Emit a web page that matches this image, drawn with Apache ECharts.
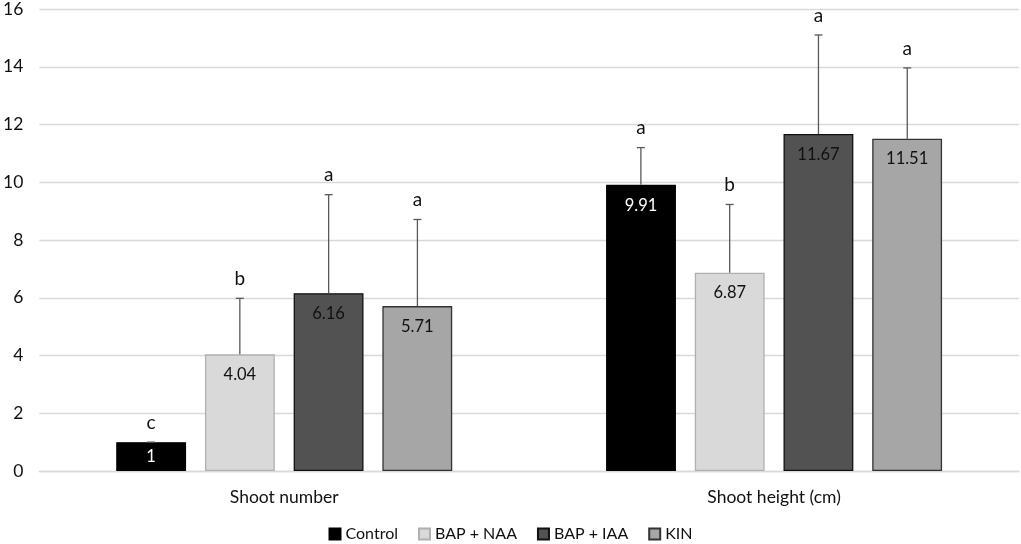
<!DOCTYPE html>
<html><head><meta charset="utf-8">
<script src="https://cdn.jsdelivr.net/npm/echarts@6/dist/echarts.min.js"></script>
<style>html,body{margin:0;padding:0;background:#fff}#c{width:1021px;height:544px}</style>
</head><body><div id="c"></div>
<script>
const categories = ['Shoot number', 'Shoot height (cm)'];
const seriesNames = ['Control', 'BAP + NAA', 'BAP + IAA', 'KIN'];
const controlVals = [1, 9.91];
const naaVals = [4.04, 6.87];
const iaaVals = [6.16, 11.67];
const kinVals = [5.71, 11.51];
const controlErr = [0, 1.29];
const naaErr = [1.94, 2.36];
const iaaErr = [3.41, 3.43];
const kinErr = [3.0, 2.45];
const controlLetters = ['c', 'a'];
const naaLetters = ['b', 'b'];
const iaaLetters = ['a', 'a'];
const kinLetters = ['a', 'a'];
const yTicks = [0, 2, 4, 6, 8, 10, 12, 14, 16];

const FONT = 'Lato';
const vals = [controlVals, naaVals, iaaVals, kinVals];
const errs = [controlErr, naaErr, iaaErr, kinErr];
const letters = [controlLetters, naaLetters, iaaLetters, kinLetters];
const fills = ['#000000', '#d9d9d9', '#525252', '#a6a6a6'];
const borders = ['#000000', '#b0b0b0', '#111111', '#333333'];
const labelColors = ['#ffffff', '#111111', '#111111', '#111111'];

const BW = 70 / 491, STEP = 89 / 491;

const series = [];
vals.forEach((v, i) => {
  series.push({
    name: seriesNames[i], type: 'bar',
    data: v.map(val => val < 2 ? { value: val, label: { position: 'inside' } } : val),
    barWidth: (BW * 100).toFixed(2) + '%', barGap: '27%',
    itemStyle: { color: fills[i], borderColor: borders[i], borderWidth: 1.3 },
    label: { show: true, position: 'insideTop', distance: 12, color: labelColors[i],
      fontFamily: FONT, fontSize: 16.5, formatter: p => String(p.value) },
    z: 2
  });
});
vals.forEach((v, i) => {
  series.push({
    name: seriesNames[i] + ' err', type: 'custom',
    data: v.map((val, k) => [k, val, errs[i][k]]),
    encode: { x: 0, y: 1 },
    z: 3, silent: true,
    renderItem: (params, api) => {
      const k = api.value(0), val = api.value(1), e = api.value(2);
      const base = api.coord([k, val]);
      const top = api.coord([k, val + e]);
      const catW = api.size([1, 0])[0];
      const x = base[0] + (i - 1.5) * catW * STEP;
      const children = [];
      if (e > 0) {
        children.push({ type: 'line', shape: { x1: x, y1: base[1], x2: x, y2: top[1] },
          style: { stroke: '#595959', lineWidth: 1.3 } });
      }
      children.push({ type: 'line', shape: { x1: x - 4, y1: top[1], x2: x + 4, y2: top[1] },
        style: { stroke: '#595959', lineWidth: 1.3 } });
      children.push({ type: 'text', x: x, y: top[1] - 10,
        style: { text: letters[i][k], fill: '#111', font: '19px ' + FONT, align: 'center', verticalAlign: 'bottom' } });
      return { type: 'group', children };
    }
  });
});

const chart = echarts.init(document.getElementById('c'));
chart.setOption({
  animation: false,
  grid: { left: 36, right: 2, top: 8, bottom: 73, containLabel: false },
  legend: {
    data: seriesNames, top: 521, left: 'center', itemWidth: 11, itemHeight: 11, itemGap: 20,
    icon: 'rect', textStyle: { fontFamily: FONT, fontSize: 16, color: '#111' },
    selectedMode: false
  },
  xAxis: {
    type: 'category', data: categories,
    axisLine: { lineStyle: { color: '#d9d9d9', width: 1.3 } },
    axisTick: { show: false },
    axisLabel: { fontFamily: FONT, fontSize: 17.5, color: '#111', margin: 17 }
  },
  yAxis: {
    type: 'value', min: yTicks[0], max: yTicks[yTicks.length - 1], interval: 2,
    axisLine: { show: false }, axisTick: { show: false },
    splitLine: { lineStyle: { color: '#d9d9d9', width: 1.3 } },
    axisLabel: { fontFamily: FONT, fontSize: 17.5, color: '#111', margin: 16 }
  },
  series
});
</script></body></html>
